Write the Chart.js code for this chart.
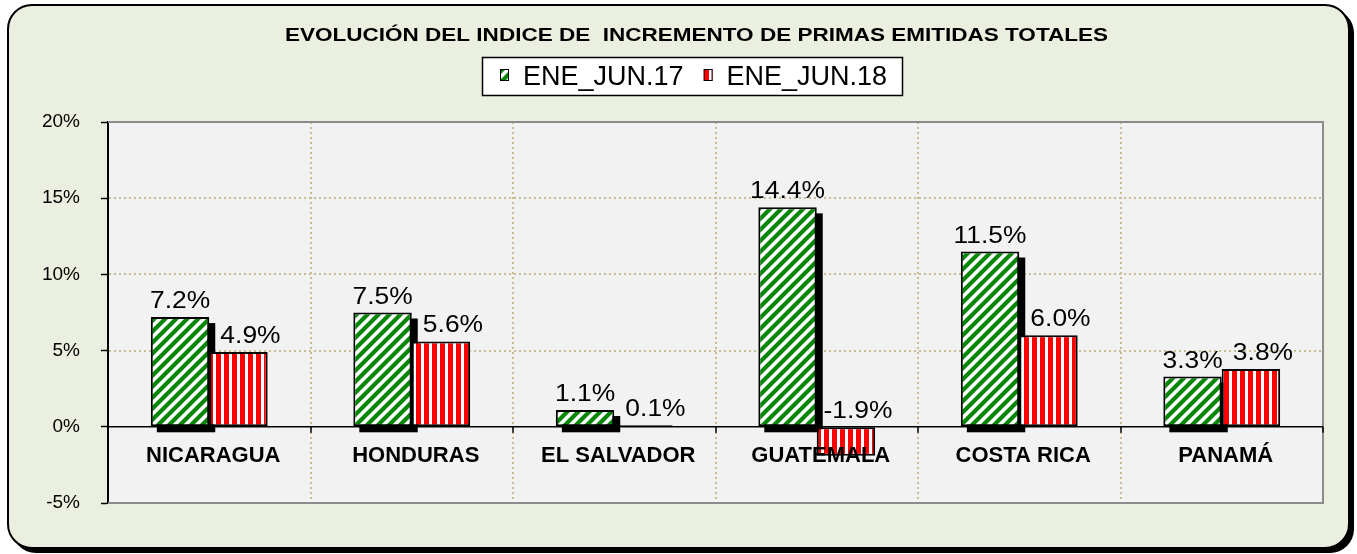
<!DOCTYPE html>
<html><head><meta charset="utf-8">
<script src="https://cdn.jsdelivr.net/npm/chart.js@4.4.1/dist/chart.umd.min.js"></script>
<style>html,body{margin:0;padding:0;background:#fff;}canvas{display:block;}</style>
</head><body>
<canvas id="c" width="1357" height="554"></canvas>
<script>
const chartTitle = 'EVOLUCIÓN DEL INDICE DE  INCREMENTO DE PRIMAS EMITIDAS TOTALES';
const categories = ['NICARAGUA', 'HONDURAS', 'EL SALVADOR', 'GUATEMALA', 'COSTA RICA', 'PANAMÁ'];
const seriesNames = ['ENE_JUN.17', 'ENE_JUN.18'];
const values2017 = [7.2, 7.5, 1.1, 14.4, 11.5, 3.3];
const values2018 = [4.9, 5.6, 0.1, -1.9, 6.0, 3.8];
const yMin = -5, yMax = 20, yStep = 5;

function makeGreenPattern() {
  const s = 11, c = document.createElement('canvas');
  c.width = s; c.height = s;
  const x = c.getContext('2d');
  x.fillStyle = '#ffffff'; x.fillRect(0, 0, s, s);
  x.strokeStyle = '#078707'; x.lineWidth = 4.2;
  x.beginPath();
  for (const k of [0, s, 2 * s]) { x.moveTo(k - 2 * s, 2 * s); x.lineTo(2 * s, k - 2 * s); }
  x.stroke();
  return document.getElementById('c').getContext('2d').createPattern(c, 'repeat');
}
function makeRedPattern() {
  const c = document.createElement('canvas');
  c.width = 8; c.height = 8;
  const x = c.getContext('2d');
  x.fillStyle = '#ffffff'; x.fillRect(0, 0, 8, 8);
  x.fillStyle = '#ff0000'; x.fillRect(0, 0, 5, 8);
  return document.getElementById('c').getContext('2d').createPattern(c, 'repeat');
}
const greenFill = makeGreenPattern();
const redFill = makeRedPattern();

function roundRectPath(ctx, x, y, w, h, r) {
  ctx.beginPath();
  ctx.moveTo(x + r, y);
  ctx.lineTo(x + w - r, y); ctx.arcTo(x + w, y, x + w, y + r, r);
  ctx.lineTo(x + w, y + h - r); ctx.arcTo(x + w, y + h, x + w - r, y + h, r);
  ctx.lineTo(x + r, y + h); ctx.arcTo(x, y + h, x, y + h - r, r);
  ctx.lineTo(x, y + r); ctx.arcTo(x, y, x + r, y, r);
  ctx.closePath();
}
function stretchedText(ctx, text, x, y, sx) {
  ctx.save();
  ctx.translate(x, y);
  ctx.scale(sx, 1);
  ctx.fillText(text, 0, 0);
  ctx.restore();
}

const decorPlugin = {
  id: 'decor',
  beforeDraw(chart) {
    const ctx = chart.ctx, a = chart.chartArea;
    ctx.save();
    roundRectPath(ctx, 12, 9, 1342, 544, 24);
    ctx.fillStyle = '#000'; ctx.fill();
    roundRectPath(ctx, 8, 5, 1341, 543, 24);
    ctx.fillStyle = '#EBEFDF'; ctx.fill();
    ctx.lineWidth = 2; ctx.strokeStyle = '#000'; ctx.stroke();
    ctx.fillStyle = '#F2F2F2';
    ctx.fillRect(a.left, a.top, a.right - a.left, a.bottom - a.top);
    // title
    ctx.font = 'bold 18px Arial, "Liberation Sans", sans-serif';
    const tw = ctx.measureText(chartTitle).width;
    ctx.fillStyle = '#000'; ctx.textAlign = 'center'; ctx.textBaseline = 'alphabetic';
    stretchedText(ctx, chartTitle, 696.5, 41, 823 / tw);
    ctx.restore();
    // legend
    ctx.save();
    ctx.fillStyle = '#fff'; ctx.strokeStyle = '#000'; ctx.lineWidth = 1.5;
    ctx.fillRect(482.5, 57.5, 420, 38); ctx.strokeRect(482.5, 57.5, 420, 38);
    ctx.font = '27px Arial, "Liberation Sans", sans-serif';
    ctx.textBaseline = 'alphabetic'; ctx.textAlign = 'left';
    let lx = 500;
    chart.data.datasets.forEach(ds => {
      ctx.fillStyle = ds.backgroundColor;
      ctx.fillRect(lx, 69, 9, 12);
      ctx.lineWidth = 1; ctx.strokeStyle = '#000';
      ctx.strokeRect(lx + 0.5, 69.5, 8, 11);
      ctx.fillStyle = '#000';
      ctx.fillText(ds.label, lx + 23, 85);
      lx += 23 + ctx.measureText(ds.label).width + 20;
    });
    ctx.restore();
  },
  beforeDatasetsDraw(chart) {
    const ctx = chart.ctx, a = chart.chartArea;
    const xs = chart.scales.x, ys = chart.scales.y;
    ctx.save();
    ctx.strokeStyle = '#C9BD93'; ctx.lineWidth = 2; ctx.setLineDash([2, 3]);
    for (let v = yMin + yStep; v < yMax; v += yStep) {
      if (v === 0) continue;
      const y = Math.round(ys.getPixelForValue(v));
      ctx.beginPath(); ctx.moveTo(a.left + 1, y); ctx.lineTo(a.right, y); ctx.stroke();
    }
    for (let i = 0; i < categories.length - 1; i++) {
      const x = Math.round((xs.getPixelForValue(i) + xs.getPixelForValue(i + 1)) / 2);
      ctx.beginPath(); ctx.moveTo(x, a.top); ctx.lineTo(x, a.bottom); ctx.stroke();
    }
    ctx.setLineDash([]);
    ctx.strokeStyle = '#8C8C8C'; ctx.lineWidth = 2;
    ctx.beginPath();
    ctx.moveTo(a.left, a.top); ctx.lineTo(a.right, a.top); ctx.lineTo(a.right, a.bottom); ctx.lineTo(a.left, a.bottom);
    ctx.stroke();
    const y0 = ys.getPixelForValue(0);
    ctx.strokeStyle = '#000'; ctx.lineWidth = 1.5;
    ctx.beginPath(); ctx.moveTo(a.left, y0); ctx.lineTo(a.right, y0); ctx.stroke();
    for (let i = 0; i < categories.length; i++) {
      const x = Math.round((xs.getPixelForValue(i) + xs.getPixelForValue(i + 1)) / 2);
      ctx.beginPath(); ctx.moveTo(x, y0); ctx.lineTo(x, y0 + 6); ctx.stroke();
    }
    const meta = chart.getDatasetMeta(0);
    ctx.fillStyle = '#000';
    meta.data.forEach(el => {
      const top = Math.min(el.y, el.base), h = Math.abs(el.base - el.y);
      ctx.fillRect(el.x - el.width / 2 + 6, top + 6, el.width, h);
    });
    ctx.restore();
  },
  afterDatasetsDraw(chart) {
    const ctx = chart.ctx, xs = chart.scales.x, ys = chart.scales.y;
    const y0 = ys.getPixelForValue(0);
    ctx.save();
    ctx.fillStyle = '#000';
    ctx.textAlign = 'center'; ctx.textBaseline = 'alphabetic';
    ctx.font = '24px Arial, "Liberation Sans", sans-serif';
    const shifts = [0, 12];
    chart.data.datasets.forEach((ds, di) => {
      chart.getDatasetMeta(di).data.forEach((el, i) => {
        const v = ds.data[i];
        const y = v >= 0 ? el.y - 9 : y0 - 9;
        stretchedText(ctx, v.toFixed(1) + '%', el.x + shifts[di], y, 1.1);
      });
    });
    ctx.font = 'bold 22px Arial, "Liberation Sans", sans-serif';
    categories.forEach((c, i) => {
      ctx.fillText(c, xs.getPixelForValue(i) + 4, y0 + 35);
    });
    ctx.restore();
  }
};

new Chart(document.getElementById('c'), {
  type: 'bar',
  data: {
    labels: categories,
    datasets: [
      { label: seriesNames[0], data: values2017, backgroundColor: greenFill, borderColor: '#000', borderWidth: 2, borderSkipped: false },
      { label: seriesNames[1], data: values2018, backgroundColor: redFill, borderColor: '#000', borderWidth: 2, borderSkipped: false }
    ]
  },
  options: {
    responsive: false,
    animation: false,
    events: [],
    layout: { padding: { top: 122, left: 8, right: 34, bottom: 51 } },
    datasets: { bar: { categoryPercentage: 0.577, barPercentage: 1.0 } },
    plugins: { legend: { display: false }, title: { display: false }, tooltip: { enabled: false } },
    scales: {
      x: { display: false, offset: true },
      y: {
        min: yMin, max: yMax,
        afterFit(s) { s.width = 100; },
        ticks: { stepSize: yStep, color: '#000', padding: 21,
          font: { family: 'Arial, "Liberation Sans", sans-serif', size: 19 },
          callback: v => v + '%' },
        grid: { drawOnChartArea: false, drawTicks: true, tickLength: 7, tickColor: '#000', tickWidth: 1.5 },
        border: { display: true, color: '#000', width: 2 }
      }
    }
  },
  plugins: [decorPlugin]
});
</script>
</body></html>
